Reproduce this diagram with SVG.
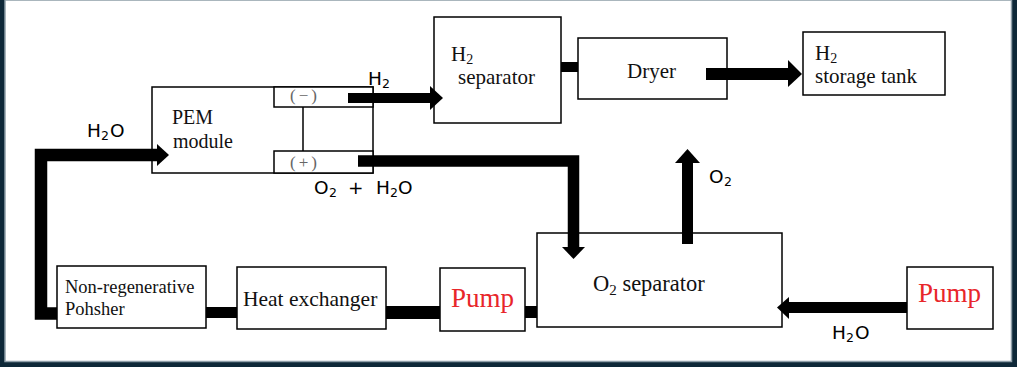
<svg xmlns="http://www.w3.org/2000/svg" width="1017" height="367" viewBox="0 0 1017 367">
<style>
.box{fill:#fff;stroke:#000;stroke-width:1.5}
.serif{font-family:"Liberation Serif","Times New Roman",serif;fill:#111}
.sans{font-family:"DejaVu Sans","Liberation Sans",sans-serif;font-size:18.5px;fill:#000}
.sub{font-size:12.5px}
.pump{font-family:"Liberation Serif","Times New Roman",serif;font-size:27px;fill:#e8262a}
.pole{font-family:"Liberation Serif","Times New Roman",serif;font-size:17px;fill:#666;letter-spacing:3px}
.pipe{fill:#000}
.pipeline{fill:none;stroke:#000;stroke-linejoin:miter}
</style>
<rect x="0" y="0" width="1017" height="367" fill="#0e2838"/>
<rect x="5" y="0" width="1006.5" height="361.5" fill="#fff" stroke="#8e9ea8" stroke-width="1.5"/>

<g id="pem-module">
<rect class="box" x="152" y="87" width="221" height="86"/>
<rect class="box" x="274" y="87" width="99" height="20"/>
<rect class="box" x="274" y="151" width="99" height="22"/>
<line x1="303" y1="107" x2="303" y2="151" stroke="#000" stroke-width="1.5"/>
<text class="serif" font-size="20" x="172" y="124">PEM</text>
<text class="serif" font-size="20" x="173" y="148">module</text>
<text class="pole" x="290" y="101">(−)</text>
<text class="pole" x="290" y="168">(+)</text>
</g>

<g id="h2-separator">
<rect class="box" x="434" y="17" width="127" height="106"/>
<text class="serif" font-size="21" x="451" y="61">H<tspan font-size="14" dy="3">2</tspan></text>
<text class="serif" font-size="21" x="458" y="84">separator</text>
</g>

<g id="dryer">
<rect class="box" x="578" y="38" width="149" height="61"/>
<text class="serif" font-size="21" x="627" y="78">Dryer</text>
</g>

<g id="h2-storage-tank">
<rect class="box" x="803" y="32" width="142" height="63"/>
<text class="serif" font-size="21" x="815" y="60">H<tspan font-size="14" dy="3">2</tspan></text>
<text class="serif" font-size="21" x="815" y="83">storage tank</text>
</g>

<g id="polisher">
<rect class="box" x="57" y="266" width="149" height="62"/>
<text class="serif" font-size="18.5" x="65" y="293">Non-regenerative</text>
<text class="serif" font-size="18.5" x="65" y="315">Pohsher</text>
</g>

<g id="heat-exchanger">
<rect class="box" x="237" y="267" width="149" height="62"/>
<text class="serif" font-size="21.5" x="243" y="306">Heat exchanger</text>
</g>

<g id="pump-1">
<rect class="box" x="440" y="268" width="85" height="63"/>
<text class="pump" x="451" y="307">Pump</text>
</g>

<g id="o2-separator">
<rect class="box" x="537" y="233" width="245" height="94"/>
<text class="serif" font-size="22.5" x="593" y="291">O<tspan font-size="15" dy="4">2</tspan><tspan dy="-4"> separator</tspan></text>
</g>

<g id="pump-2">
<rect class="box" x="907" y="267" width="86" height="62"/>
<text class="pump" x="918" y="302">Pump</text>
</g>

<g id="connectors">
<path class="pipeline" d="M57,313.5 H41 V155 H158" stroke-width="12.5"/>
<polygon class="pipe" points="157,144 169,155 157,166"/>
<rect class="pipe" x="206" y="307" width="31" height="11"/>
<rect class="pipe" x="386" y="306" width="54" height="13"/>
<rect class="pipe" x="525" y="306" width="12" height="12"/>
<path class="pipeline" d="M358,161 H573.5 V248" stroke-width="11.5"/>
<polygon class="pipe" points="562,247 585,247 573.5,259"/>
<rect class="pipe" x="682" y="162" width="11" height="82"/>
<polygon class="pipe" points="675,163 700,163 687.5,149"/>
<rect class="pipe" x="348" y="93" width="83" height="10"/>
<polygon class="pipe" points="430,86 443,98 430,110"/>
<rect class="pipe" x="561" y="62" width="17" height="10"/>
<rect class="pipe" x="706" y="68" width="83" height="12"/>
<polygon class="pipe" points="788,60 802,74 788,87"/>
<rect class="pipe" x="788" y="302" width="119" height="11"/>
<polygon class="pipe" points="789,297 777,307.5 789,319"/>

<text class="sans" y="85"><tspan x="368">H</tspan><tspan class="sub" x="382" dy="3">2</tspan></text>
<text class="sans" y="137"><tspan x="87">H</tspan><tspan class="sub" x="101" dy="3">2</tspan><tspan x="110" dy="-3">O</tspan></text>
<text class="sans" y="194"><tspan x="314">O</tspan><tspan class="sub" x="329" dy="3">2</tspan><tspan x="348" dy="-3">+</tspan><tspan x="376">H</tspan><tspan class="sub" x="390" dy="3">2</tspan><tspan x="398" dy="-3">O</tspan></text>
<text class="sans" y="183"><tspan x="709">O</tspan><tspan class="sub" x="724" dy="3">2</tspan></text>
<text class="sans" y="339"><tspan x="832">H</tspan><tspan class="sub" x="846" dy="3">2</tspan><tspan x="855" dy="-3">O</tspan></text>
</g>
</svg>
